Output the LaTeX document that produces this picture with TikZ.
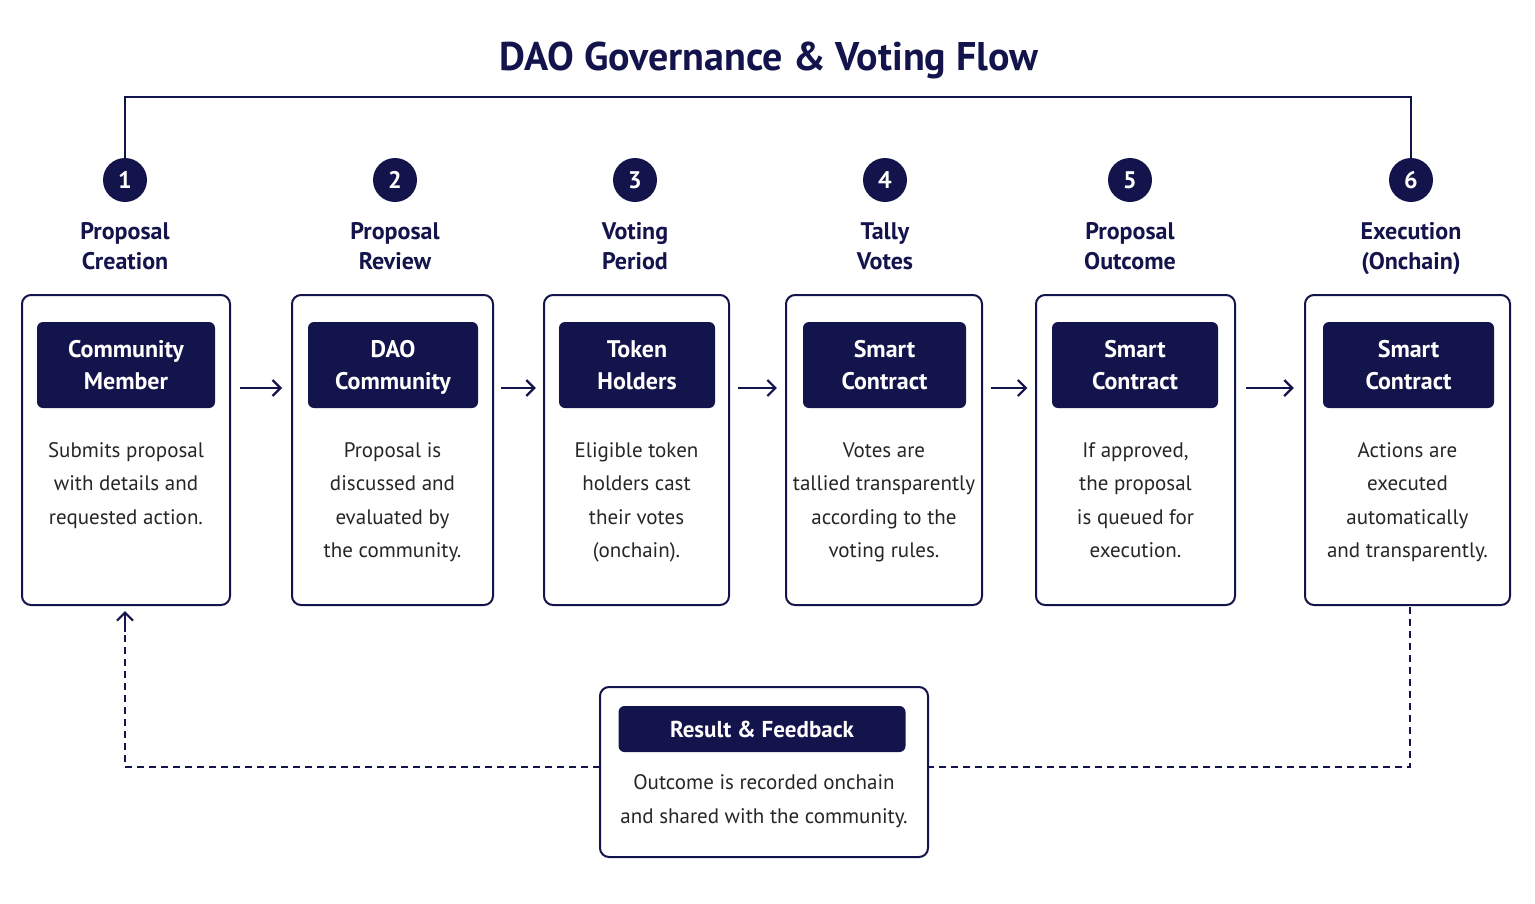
\documentclass[tikz,border=0pt]{standalone}
\usepackage{fontspec}
\setmainfont{PT Sans}
\usetikzlibrary{arrows.meta}
\definecolor{navy}{HTML}{14144C}
\begin{document}
\begin{tikzpicture}[x=1pt,y=-1pt,
  outer/.style={draw=navy,line width=2pt,rounded corners=9pt,fill=white},
  inner/.style={fill=navy,rounded corners=6pt,text=white,font=\fontsize{24}{32}\selectfont\bfseries,align=center,inner sep=0pt},
  num/.style={circle,fill=navy,text=white,minimum size=44pt,inner sep=0pt,font=\fontsize{24}{28}\selectfont\bfseries},
  ttl/.style={text=navy,font=\fontsize{24}{30}\selectfont\bfseries,align=center,anchor=north,inner sep=0pt},
  body/.style={text=black!85,font=\fontsize{21}{33.5}\selectfont,align=center},
  conn/.style={draw=navy,line width=2.2pt},
  arr/.style={conn,-{Straight Barb[length=8pt,width=16pt,line width=2.2pt]}},
  dashln/.style={conn,dash pattern=on 7pt off 5pt}]
\useasboundingbox (0,0) rectangle (1535,903);
\node[text=navy,font=\fontsize{40}{44}\selectfont\bfseries] (title) at (769,60) {DAO Governance \& Voting Flow};
\foreach \i/\xa/\xb/\ia/\ib/\cx/\n/\t/\h/\b in {
 1/22/230/37/215/125/1/{Proposal\\Creation}/{Community\\Member}/{Submits proposal\\with details and\\requested action.},
 2/292/493/308/478/395/2/{Proposal\\Review}/{DAO\\Community}/{Proposal is\\discussed and\\evaluated by\\the community.},
 3/544/729/559/715/635/3/{Voting\\Period}/{Token\\Holders}/{Eligible token\\holders cast\\their votes\\(onchain).},
 4/786/982/803/966/885/4/{Tally\\Votes}/{Smart\\Contract}/{Votes are\\tallied transparently\\according to the\\voting rules.},
 5/1036/1235/1052/1218/1130/5/{Proposal\\Outcome}/{Smart\\Contract}/{If approved,\\the proposal\\is queued for\\execution.},
 6/1305/1510/1323/1494/1411/6/{Execution\\(Onchain)}/{Smart\\Contract}/{Actions are\\executed\\automatically\\and transparently.}}{
  \draw[outer] (\xa,295) rectangle (\xb,605);
  \coordinate (bl\i) at (\xa,388); \coordinate (br\i) at (\xb,388);
  \node[fill=navy,rounded corners=6pt,minimum width={\ib-\ia},minimum height=86pt] (h\i) at ({(\ia+\ib)/2},365) {};
  \node[inner] (ht\i) at ({(\ia+\ib)/2},367) {\strut\h\strut};
  \node[num] (c\i) at (\cx,180) {\n};
  \node[ttl] (t\i) at (\cx,222) {\t};
  \node[body,anchor=north] (b\i) at ({(\xa+\xb)/2},439) {\b};
}
\foreach \a/\b in {1/2,2/3,3/4,4/5,5/6}{
  \path (br\a) -- (bl\b) coordinate[pos=0.16] (s\a) coordinate[pos=0.84] (e\a);
  \draw[arr] (s\a) -- (e\a);
}
\draw[conn] (c1.north) -- (125,97) -- (1411,97) -- (c6.north);
\draw[outer] (600,687) rectangle (928,857);
\node[inner,minimum width=287pt,minimum height=46pt,font=\fontsize{23}{28}\selectfont\bfseries] (rf) at (762,729) {Result \& Feedback};
\node[body] (rb) at (764,801) {Outcome is recorded onchain\\and shared with the community.};
\coordinate (rl) at (600,767); \coordinate (rr) at (928,767);
\coordinate (b6b) at (1410,607); \coordinate (b1b) at (125,611);
\draw[dashln] (b6b) -- (1410,767) -- (rr);
\draw[dashln] (rl) -- (125,767) -- (125,628);
\draw[arr] (125,632) -- (b1b);
\end{tikzpicture}
\end{document}
